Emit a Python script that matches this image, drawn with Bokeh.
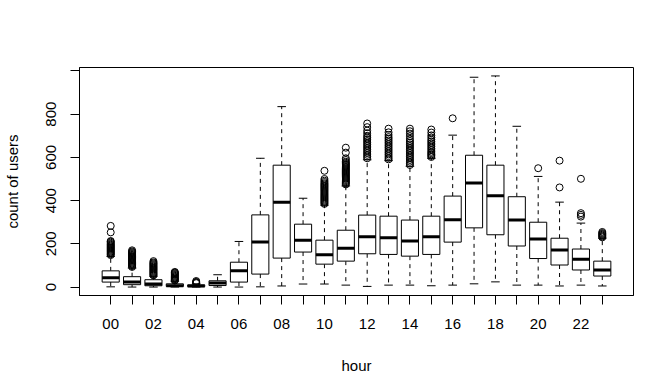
import math
from bokeh.plotting import figure
from bokeh.models import Range1d, FixedTicker, ColumnDataSource
from bokeh.embed import file_html
from bokeh.resources import INLINE

hours = ["00", "01", "02", "03", "04", "05", "06", "07", "08", "09", "10", "11",
         "12", "13", "14", "15", "16", "17", "18", "19", "20", "21", "22", "23"]
lower_whisker = [1, 0, 0, 0, 0, 0, 0, 1, 5, 14, 14, 9, 3, 9, 9, 6, 9, 15, 24, 9, 9, 5, 9, 5]
q1 = [23, 11, 6, 3, 2, 7, 23, 60, 134, 162, 106, 120, 154, 151, 143, 151, 208, 274, 242, 190, 132, 102, 79, 51]
median = [43, 23, 14, 6, 5, 19, 75, 208, 393, 217, 149, 180, 233, 228, 213, 233, 311, 482, 422, 310, 222, 171, 129, 79]
q3 = [75, 48, 34, 15, 10, 29, 115, 334, 564, 291, 217, 263, 333, 328, 310, 328, 421, 610, 564, 418, 300, 226, 176, 120]
upper_whisker = [142, 88, 50, 27, 15, 57, 211, 596, 835, 411, 379, 468, 589, 585, 559, 596, 703, 971, 977, 744, 512, 393, 296, 226]
outliers = [
    [148, 152, 156, 160, 164, 168, 172, 176, 180, 184, 188, 192, 196, 200, 205, 210, 213, 253, 283],
    [93, 97, 101, 105, 109, 113, 117, 121, 125, 129, 133, 137, 141, 145, 149, 153, 157, 161, 165, 170],
    [54, 58, 62, 66, 70, 74, 78, 82, 86, 90, 94, 98, 102, 106, 110, 114, 120],
    [30, 33, 36, 40, 44, 48, 52, 56, 60, 64, 67, 70],
    [18, 21, 24, 28],
    [],
    [],
    [],
    [],
    [],
    [385, 390, 395, 400, 405, 410, 415, 420, 425, 430, 435, 440, 445, 450, 455, 460, 465, 470, 475, 480, 486, 492, 500, 538],
    [475, 480, 485, 490, 495, 500, 505, 510, 515, 520, 525, 530, 535, 540, 545, 550, 555, 560, 565, 570, 575, 580, 588, 596, 622, 645],
    [596, 604, 612, 620, 628, 636, 644, 652, 660, 668, 676, 684, 692, 700, 712, 724, 740, 757],
    [591, 598, 606, 614, 622, 630, 638, 646, 654, 662, 670, 678, 686, 694, 704, 716, 733],
    [565, 572, 580, 588, 596, 604, 612, 620, 628, 636, 644, 652, 660, 668, 676, 686, 698, 710, 721, 733],
    [602, 608, 614, 620, 626, 634, 642, 650, 658, 666, 674, 682, 692, 702, 715, 729],
    [781],
    [],
    [],
    [],
    [550],
    [461, 585],
    [326, 334, 342, 501],
    [230, 234, 238, 242, 246, 250, 255],
]

pos = [i + 1 for i in range(len(hours))]
box_half = 0.4
cap_half = 0.2

box_src = ColumnDataSource(dict(
    x=pos,
    left=[x - box_half for x in pos],
    right=[x + box_half for x in pos],
    cap_l=[x - cap_half for x in pos],
    cap_r=[x + cap_half for x in pos],
    lo=lower_whisker, q1=q1, med=median, q3=q3, hi=upper_whisker,
))

out_x, out_y = [], []
for i, vals in enumerate(outliers):
    for v in vals:
        out_x.append(pos[i])
        out_y.append(v)
out_src = ColumnDataSource(dict(x=out_x, y=out_y))

FONT = "Liberation Sans"
FS = "15px"

p = figure(width=648, height=380, output_backend="svg", toolbar_location=None,
           x_range=Range1d(-0.46, 25.46), y_range=Range1d(-39.08, 1016.08),
           min_border_left=74, min_border_right=15, min_border_top=67, min_border_bottom=85,
           background_fill_color="white", border_fill_color="white")
p.outline_line_color = "black"
p.outline_line_width = 1
p.xgrid.visible = False
p.ygrid.visible = False

# whiskers
p.segment(x0="x", y0="q3", x1="x", y1="hi", source=box_src, line_color="black",
          line_width=1, line_dash="4 4")
p.segment(x0="x", y0="q1", x1="x", y1="lo", source=box_src, line_color="black",
          line_width=1, line_dash="4 4")
# staples
p.segment(x0="cap_l", y0="hi", x1="cap_r", y1="hi", source=box_src, line_color="black", line_width=1)
p.segment(x0="cap_l", y0="lo", x1="cap_r", y1="lo", source=box_src, line_color="black", line_width=1)
# boxes
p.quad(left="left", right="right", bottom="q1", top="q3", source=box_src,
       fill_color="white", line_color="black", line_width=1)
# medians
p.segment(x0="left", y0="med", x1="right", y1="med", source=box_src,
          line_color="black", line_width=3, line_cap="butt")
# outliers
p.scatter(x="x", y="y", source=out_src, marker="circle", size=7,
          fill_color=None, line_color="black", line_width=1)

for ax in (p.xaxis[0], p.yaxis[0]):
    ax.axis_line_color = "black"
    ax.major_tick_line_color = "black"
    ax.major_tick_out = 9
    ax.major_tick_in = 0
    ax.minor_tick_line_color = None
    ax.major_label_text_font = FONT
    ax.major_label_text_font_size = FS
    ax.major_label_text_color = "black"
    ax.axis_label_text_font = FONT
    ax.axis_label_text_font_size = FS
    ax.axis_label_text_font_style = "normal"
    ax.axis_label_text_color = "black"

p.xaxis.ticker = FixedTicker(ticks=pos)
p.xaxis.major_label_overrides = {pos[i]: (hours[i] if i % 2 == 0 else "") for i in range(len(hours))}
p.xaxis.axis_label = "hour"
p.xaxis.major_label_standoff = 14
p.xaxis.axis_label_standoff = 25

p.yaxis.ticker = FixedTicker(ticks=[0, 200, 400, 600, 800, 1000])
p.yaxis.major_label_overrides = {1000: ""}
p.yaxis.major_label_orientation = "parallel"
p.yaxis.axis_label = "count of users"
p.yaxis.major_label_standoff = 14
p.yaxis.axis_label_standoff = 23

open("out.html", "w").write(file_html(p, INLINE))
